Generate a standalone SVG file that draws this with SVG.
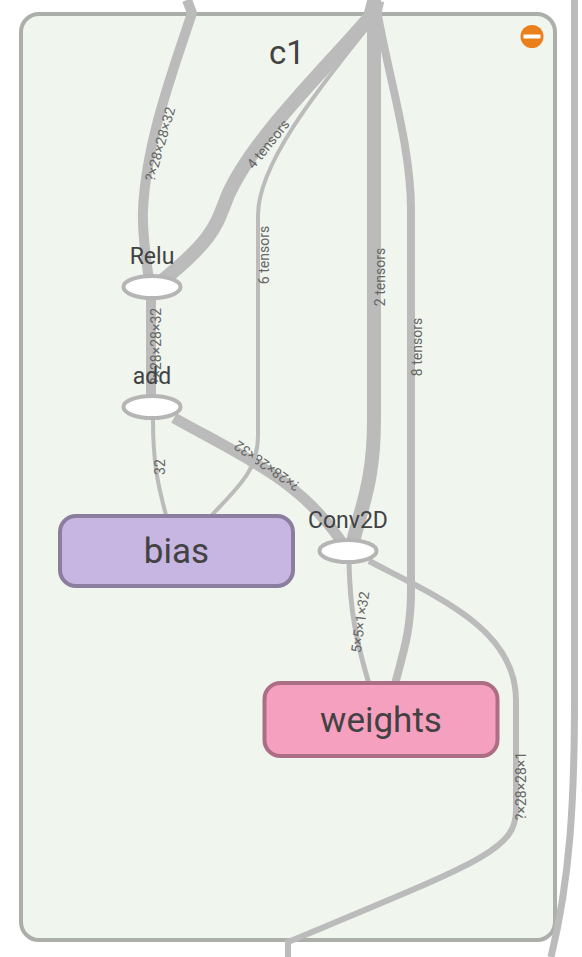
<svg xmlns="http://www.w3.org/2000/svg" width="582" height="957" viewBox="0 0 582 957">
<style>
text{font-family:Roboto,"Liberation Sans",sans-serif}
.e{fill:none;stroke:#bbb;stroke-linecap:butt}
.l{font-size:14px;fill:#666;text-anchor:middle}
.n{font-size:23px;fill:#424242;text-anchor:middle}
.b{font-size:35px;fill:#424242;text-anchor:middle}
.o{fill:#fff;stroke:#b5b5b5;stroke-width:4}
</style>
<rect width="582" height="957" fill="#fff"/>
<g id="c1-box">
<rect x="21" y="14" width="534" height="926" rx="18" fill="#f0f5ee" stroke="#abafa9" stroke-width="4"/>
<text x="287" y="64" text-anchor="middle" fill="#424242" style="font-size:33px">c1</text>
<circle cx="532" cy="36.500" r="11.500" fill="#ea7f1b"/>
<rect x="523.500" y="34.500" width="17" height="4" fill="#fff"/>
</g>
<g id="connectors">
<path class="e" stroke-width="10" d="M187,0 L192,13 C176,62 146,140 143,210 C142,235 146,258 149,280"/>
<path class="e" stroke-width="14" d="M376,10 C330,65 255,135 228,195 C216,225 215,238 162,281"/>
<path class="e" stroke-width="14" d="M374,0 L374,420 C374,480 362,505 353,542"/>
<path class="e" stroke-width="17" d="M376,0 L372,15"/>
<path class="e" stroke-width="8" d="M377,10 C388,75 411,145 411,210 L411,590 C411,630 404,650 395,684"/>
<path class="e" stroke-width="10" d="M151,298 L151,396"/>
<path class="e" stroke-width="11" d="M174,418 C240,455 300,480 341,541"/>
<text class="l" transform="translate(267,466) rotate(215)" dy="5">?×28×28×32</text>
<path class="e" stroke-width="4" d="M372,22 C330,75 258,160 258,215 L258,435 C258,470 240,485 212,515"/>
<path class="e" stroke-width="4" d="M153,420 C153,460 157,482 166,515"/>
<path class="e" stroke-width="5" d="M349,563 C350,610 356,640 369,684"/>
<path class="e" stroke-width="6" d="M369,561 C440,598 516,630 516,700 L516,810 C516,850 480,862 288,942 L288,957"/>
<path class="e" stroke-width="7" d="M574.500,0 L574.500,700 C574.500,800 570,880 551,957"/>
</g>
<g id="edge-labels">
<text class="l" transform="translate(160,144) rotate(-74)" dy="5">?×28×28×32</text>
<text class="l" transform="translate(268,144) rotate(-51)" dy="5">4 tensors</text>
<text class="l" transform="translate(264,255) rotate(-90)" dy="5">6 tensors</text>
<text class="l" transform="translate(380,277) rotate(-90)" dy="5">2 tensors</text>
<text class="l" transform="translate(417,347) rotate(-90)" dy="5">8 tensors</text>
<text class="l" transform="translate(156,346) rotate(-90)" dy="5">?×28×28×32</text>
<text class="l" transform="translate(160,467) rotate(-90)" dy="5">32</text>
<text class="l" transform="translate(360,622) rotate(-82)" dy="5">5×5×1×32</text>
<text class="l" transform="translate(521,786) rotate(-90)" dy="5">?×28×28×1</text>
</g>
<g id="Relu"><ellipse class="o" cx="152" cy="287" rx="28.500" ry="11"/><text class="n" x="152" y="264">Relu</text></g>
<g id="add"><ellipse class="o" cx="152" cy="407" rx="28.500" ry="11"/><text class="n" x="152" y="384">add</text></g>
<g id="Conv2D"><ellipse class="o" cx="348" cy="551" rx="28.500" ry="11"/><text class="n" x="348" y="528">Conv2D</text></g>
<g id="bias"><rect x="60" y="516" width="233" height="70" rx="16" fill="#c7b6e1" stroke="#8b7d9e" stroke-width="4"/><text class="b" x="176.500" y="563">bias</text></g>
<g id="weights"><rect x="264.500" y="683" width="233" height="73" rx="16" fill="#f6a0bf" stroke="#ab6e84" stroke-width="4"/><text class="b" x="381" y="732">weights</text></g>
</svg>
